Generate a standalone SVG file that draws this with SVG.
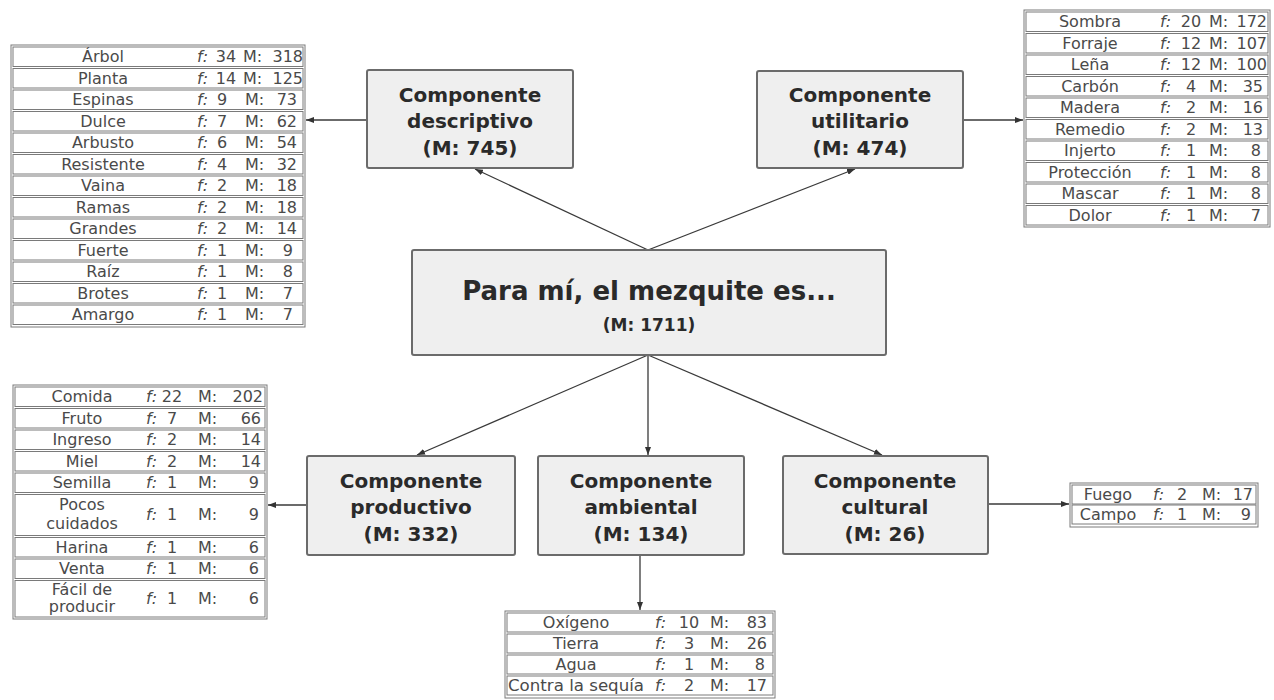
<svg xmlns="http://www.w3.org/2000/svg" width="1274" height="700" viewBox="0 0 1274 700">
<defs>
<marker id="ah" markerWidth="8" markerHeight="6" refX="8" refY="3" orient="auto" markerUnits="userSpaceOnUse">
<path d="M0,0 L8,3 L0,6 z" fill="#333"/>
</marker>
<style>
.box{fill:#efefef;stroke:#6b6b6b;stroke-width:2}
.bt{font-family:"DejaVu Sans",sans-serif;font-weight:bold;font-size:20px;fill:#2a2a2a;text-anchor:middle}
.outer{fill:#fff;stroke:#7a7a7a;stroke-width:1}
.row{fill:none;stroke:#7a7a7a;stroke-width:1}
.tx{font-family:"DejaVu Sans",sans-serif;font-size:16px;fill:#4a4a4a}
.nm{text-anchor:middle}
.f{font-style:italic}
.fn{text-anchor:middle}
.mn{text-anchor:end}
.con{fill:none;stroke:#3a3a3a;stroke-width:1.3;marker-end:url(#ah)}
</style>
</defs>
<rect width="1274" height="700" fill="#fff"/>

<g id="connectors">
<line class="con" x1="648" y1="250" x2="475" y2="169"/>
<line class="con" x1="648" y1="250" x2="855" y2="169"/>
<line class="con" x1="648" y1="355" x2="417" y2="455"/>
<line class="con" x1="648" y1="355" x2="648" y2="455"/>
<line class="con" x1="648" y1="355" x2="882" y2="455"/>
<line class="con" x1="366" y1="120" x2="306" y2="120"/>
<line class="con" x1="964" y1="120" x2="1023" y2="120"/>
<line class="con" x1="306" y1="505" x2="268" y2="505"/>
<line class="con" x1="640" y1="556" x2="640" y2="610"/>
<line class="con" x1="989" y1="504" x2="1069" y2="504"/>
</g>

<g id="center">
<rect class="box" x="412" y="250" width="474" height="105" rx="2"/>
<text class="bt" x="649" y="300" style="font-size:26px">Para mí, el mezquite es...</text>
<text class="bt" x="649" y="331" style="font-size:17px">(M: 1711)</text>
</g>

<g id="descriptivo">
<rect class="box" x="367" y="70" width="206" height="98" rx="2"/>
<text class="bt" x="470" y="102">Componente</text>
<text class="bt" x="470" y="128">descriptivo</text>
<text class="bt" x="470" y="155">(M: 745)</text>
</g>

<g id="utilitario">
<rect class="box" x="757" y="71" width="206" height="97" rx="2"/>
<text class="bt" x="860" y="102">Componente</text>
<text class="bt" x="860" y="128">utilitario</text>
<text class="bt" x="860" y="155">(M: 474)</text>
</g>

<g id="productivo">
<rect class="box" x="307" y="456" width="208" height="99" rx="2"/>
<text class="bt" x="411" y="488">Componente</text>
<text class="bt" x="411" y="514">productivo</text>
<text class="bt" x="411" y="541">(M: 332)</text>
</g>

<g id="ambiental">
<rect class="box" x="538" y="456" width="206" height="99" rx="2"/>
<text class="bt" x="641" y="488">Componente</text>
<text class="bt" x="641" y="514">ambiental</text>
<text class="bt" x="641" y="541">(M: 134)</text>
</g>

<g id="cultural">
<rect class="box" x="783" y="456" width="205" height="98" rx="2"/>
<text class="bt" x="885" y="488">Componente</text>
<text class="bt" x="885" y="514">cultural</text>
<text class="bt" x="885" y="541">(M: 26)</text>
</g>

<g id="tabla-descriptivo" class="tx">
<rect class="outer" x="11" y="45" width="294" height="282"/>
<rect class="row" x="13" y="47" width="290" height="19.5"/>
<rect class="row" x="13" y="68.5" width="290" height="19.5"/>
<rect class="row" x="13" y="90" width="290" height="19.5"/>
<rect class="row" x="13" y="111.5" width="290" height="19.5"/>
<rect class="row" x="13" y="133" width="290" height="19.5"/>
<rect class="row" x="13" y="154.5" width="290" height="19.5"/>
<rect class="row" x="13" y="176" width="290" height="19.5"/>
<rect class="row" x="13" y="197.5" width="290" height="19.5"/>
<rect class="row" x="13" y="219" width="290" height="19.5"/>
<rect class="row" x="13" y="240.5" width="290" height="19.5"/>
<rect class="row" x="13" y="262" width="290" height="19.5"/>
<rect class="row" x="13" y="283.5" width="290" height="19.5"/>
<rect class="row" x="13" y="305" width="290" height="19.5"/>
<text class="nm" x="103" y="62">Árbol</text><text class="f" x="197" y="62">f:</text><text class="fn" x="226" y="62">34</text><text x="243" y="62">M:</text><text class="mn" x="303" y="62">318</text>
<text class="nm" x="103" y="83.5">Planta</text><text class="f" x="197" y="83.5">f:</text><text class="fn" x="226" y="83.5">14</text><text x="243" y="83.5">M:</text><text class="mn" x="303" y="83.5">125</text>
<text class="nm" x="103" y="105">Espinas</text><text class="f" x="197" y="105">f:</text><text class="fn" x="222" y="105">9</text><text x="245" y="105">M:</text><text class="mn" x="297" y="105">73</text>
<text class="nm" x="103" y="126.5">Dulce</text><text class="f" x="197" y="126.5">f:</text><text class="fn" x="222" y="126.5">7</text><text x="245" y="126.5">M:</text><text class="mn" x="297" y="126.5">62</text>
<text class="nm" x="103" y="148">Arbusto</text><text class="f" x="197" y="148">f:</text><text class="fn" x="222" y="148">6</text><text x="245" y="148">M:</text><text class="mn" x="297" y="148">54</text>
<text class="nm" x="103" y="169.5">Resistente</text><text class="f" x="197" y="169.5">f:</text><text class="fn" x="222" y="169.5">4</text><text x="245" y="169.5">M:</text><text class="mn" x="297" y="169.5">32</text>
<text class="nm" x="103" y="191">Vaina</text><text class="f" x="197" y="191">f:</text><text class="fn" x="222" y="191">2</text><text x="245" y="191">M:</text><text class="mn" x="297" y="191">18</text>
<text class="nm" x="103" y="212.5">Ramas</text><text class="f" x="197" y="212.5">f:</text><text class="fn" x="222" y="212.5">2</text><text x="245" y="212.5">M:</text><text class="mn" x="297" y="212.5">18</text>
<text class="nm" x="103" y="234">Grandes</text><text class="f" x="197" y="234">f:</text><text class="fn" x="222" y="234">2</text><text x="245" y="234">M:</text><text class="mn" x="297" y="234">14</text>
<text class="nm" x="103" y="255.5">Fuerte</text><text class="f" x="197" y="255.5">f:</text><text class="fn" x="222" y="255.5">1</text><text x="245" y="255.5">M:</text><text class="mn" x="293" y="255.5">9</text>
<text class="nm" x="103" y="277">Raíz</text><text class="f" x="197" y="277">f:</text><text class="fn" x="222" y="277">1</text><text x="245" y="277">M:</text><text class="mn" x="293" y="277">8</text>
<text class="nm" x="103" y="298.5">Brotes</text><text class="f" x="197" y="298.5">f:</text><text class="fn" x="222" y="298.5">1</text><text x="245" y="298.5">M:</text><text class="mn" x="293" y="298.5">7</text>
<text class="nm" x="103" y="320">Amargo</text><text class="f" x="197" y="320">f:</text><text class="fn" x="222" y="320">1</text><text x="245" y="320">M:</text><text class="mn" x="293" y="320">7</text>
</g>

<g id="tabla-utilitario" class="tx">
<rect class="outer" x="1024" y="10" width="246" height="217"/>
<rect class="row" x="1026" y="12" width="242" height="19.5"/>
<rect class="row" x="1026" y="33.5" width="242" height="19.5"/>
<rect class="row" x="1026" y="55" width="242" height="19.5"/>
<rect class="row" x="1026" y="76.5" width="242" height="19.5"/>
<rect class="row" x="1026" y="98" width="242" height="19.5"/>
<rect class="row" x="1026" y="119.5" width="242" height="19.5"/>
<rect class="row" x="1026" y="141" width="242" height="19.5"/>
<rect class="row" x="1026" y="162.5" width="242" height="19.5"/>
<rect class="row" x="1026" y="184" width="242" height="19.5"/>
<rect class="row" x="1026" y="205.5" width="242" height="19.5"/>
<text class="nm" x="1090" y="27">Sombra</text><text class="f" x="1160" y="27">f:</text><text class="fn" x="1191" y="27">20</text><text x="1209" y="27">M:</text><text class="mn" x="1267" y="27">172</text>
<text class="nm" x="1090" y="48.5">Forraje</text><text class="f" x="1160" y="48.5">f:</text><text class="fn" x="1191" y="48.5">12</text><text x="1209" y="48.5">M:</text><text class="mn" x="1267" y="48.5">107</text>
<text class="nm" x="1090" y="70">Leña</text><text class="f" x="1160" y="70">f:</text><text class="fn" x="1191" y="70">12</text><text x="1209" y="70">M:</text><text class="mn" x="1267" y="70">100</text>
<text class="nm" x="1090" y="91.5">Carbón</text><text class="f" x="1160" y="91.5">f:</text><text class="fn" x="1191" y="91.5">4</text><text x="1209" y="91.5">M:</text><text class="mn" x="1263" y="91.5">35</text>
<text class="nm" x="1090" y="113">Madera</text><text class="f" x="1160" y="113">f:</text><text class="fn" x="1191" y="113">2</text><text x="1209" y="113">M:</text><text class="mn" x="1263" y="113">16</text>
<text class="nm" x="1090" y="134.5">Remedio</text><text class="f" x="1160" y="134.5">f:</text><text class="fn" x="1191" y="134.5">2</text><text x="1209" y="134.5">M:</text><text class="mn" x="1263" y="134.5">13</text>
<text class="nm" x="1090" y="156">Injerto</text><text class="f" x="1160" y="156">f:</text><text class="fn" x="1191" y="156">1</text><text x="1209" y="156">M:</text><text class="mn" x="1261" y="156">8</text>
<text class="nm" x="1090" y="177.5">Protección</text><text class="f" x="1160" y="177.5">f:</text><text class="fn" x="1191" y="177.5">1</text><text x="1209" y="177.5">M:</text><text class="mn" x="1261" y="177.5">8</text>
<text class="nm" x="1090" y="199">Mascar</text><text class="f" x="1160" y="199">f:</text><text class="fn" x="1191" y="199">1</text><text x="1209" y="199">M:</text><text class="mn" x="1261" y="199">8</text>
<text class="nm" x="1090" y="220.5">Dolor</text><text class="f" x="1160" y="220.5">f:</text><text class="fn" x="1191" y="220.5">1</text><text x="1209" y="220.5">M:</text><text class="mn" x="1261" y="220.5">7</text>
</g>

<g id="tabla-productivo" class="tx">
<rect class="outer" x="13" y="385" width="254" height="234"/>
<rect class="row" x="15" y="387" width="250" height="19.5"/>
<rect class="row" x="15" y="408.5" width="250" height="19.5"/>
<rect class="row" x="15" y="430" width="250" height="19.5"/>
<rect class="row" x="15" y="451.5" width="250" height="19.5"/>
<rect class="row" x="15" y="473" width="250" height="19.5"/>
<rect class="row" x="15" y="494.5" width="250" height="41"/>
<rect class="row" x="15" y="537.5" width="250" height="19.5"/>
<rect class="row" x="15" y="559" width="250" height="19.5"/>
<rect class="row" x="15" y="580.5" width="250" height="36.5"/>
<text class="nm" x="82" y="402">Comida</text><text class="f" x="146" y="402">f:</text><text class="fn" x="172" y="402">22</text><text x="198" y="402">M:</text><text class="mn" x="263" y="402">202</text>
<text class="nm" x="82" y="423.5">Fruto</text><text class="f" x="146" y="423.5">f:</text><text class="fn" x="172" y="423.5">7</text><text x="198" y="423.5">M:</text><text class="mn" x="261" y="423.5">66</text>
<text class="nm" x="82" y="445">Ingreso</text><text class="f" x="146" y="445">f:</text><text class="fn" x="172" y="445">2</text><text x="198" y="445">M:</text><text class="mn" x="261" y="445">14</text>
<text class="nm" x="82" y="466.5">Miel</text><text class="f" x="146" y="466.5">f:</text><text class="fn" x="172" y="466.5">2</text><text x="198" y="466.5">M:</text><text class="mn" x="261" y="466.5">14</text>
<text class="nm" x="82" y="488">Semilla</text><text class="f" x="146" y="488">f:</text><text class="fn" x="172" y="488">1</text><text x="198" y="488">M:</text><text class="mn" x="259" y="488">9</text>
<text class="nm" x="82" y="510">Pocos</text><text class="nm" x="82" y="529">cuidados</text><text class="f" x="146" y="520">f:</text><text class="fn" x="172" y="520">1</text><text x="198" y="520">M:</text><text class="mn" x="259" y="520">9</text>
<text class="nm" x="82" y="552.5">Harina</text><text class="f" x="146" y="552.5">f:</text><text class="fn" x="172" y="552.5">1</text><text x="198" y="552.5">M:</text><text class="mn" x="259" y="552.5">6</text>
<text class="nm" x="82" y="574">Venta</text><text class="f" x="146" y="574">f:</text><text class="fn" x="172" y="574">1</text><text x="198" y="574">M:</text><text class="mn" x="259" y="574">6</text>
<text class="nm" x="82" y="595">Fácil de</text><text class="nm" x="82" y="612">producir</text><text class="f" x="146" y="604">f:</text><text class="fn" x="172" y="604">1</text><text x="198" y="604">M:</text><text class="mn" x="259" y="604">6</text>
</g>

<g id="tabla-ambiental" class="tx">
<rect class="outer" x="505" y="611" width="270" height="87"/>
<rect class="row" x="507" y="613" width="266" height="19"/>
<rect class="row" x="507" y="634" width="266" height="19"/>
<rect class="row" x="507" y="655" width="266" height="19"/>
<rect class="row" x="507" y="676" width="266" height="19"/>
<text class="nm" x="576" y="628">Oxígeno</text><text class="f" x="655" y="628">f:</text><text class="fn" x="689" y="628">10</text><text x="710" y="628">M:</text><text class="mn" x="767" y="628">83</text>
<text class="nm" x="576" y="649">Tierra</text><text class="f" x="655" y="649">f:</text><text class="fn" x="689" y="649">3</text><text x="710" y="649">M:</text><text class="mn" x="767" y="649">26</text>
<text class="nm" x="576" y="670">Agua</text><text class="f" x="655" y="670">f:</text><text class="fn" x="689" y="670">1</text><text x="710" y="670">M:</text><text class="mn" x="765" y="670">8</text>
<text class="nm" x="576" y="691" textLength="136" lengthAdjust="spacingAndGlyphs">Contra la sequía</text><text class="f" x="655" y="691">f:</text><text class="fn" x="689" y="691">2</text><text x="710" y="691">M:</text><text class="mn" x="767" y="691">17</text>
</g>

<g id="tabla-cultural" class="tx">
<rect class="outer" x="1070" y="483" width="188" height="44"/>
<rect class="row" x="1072" y="485" width="184" height="19"/>
<rect class="row" x="1072" y="505" width="184" height="19"/>
<text class="nm" x="1108" y="500">Fuego</text><text class="f" x="1153" y="500">f:</text><text class="fn" x="1182" y="500">2</text><text x="1202" y="500">M:</text><text class="mn" x="1253" y="500">17</text>
<text class="nm" x="1108" y="520">Campo</text><text class="f" x="1153" y="520">f:</text><text class="fn" x="1182" y="520">1</text><text x="1202" y="520">M:</text><text class="mn" x="1251" y="520">9</text>
</g>
</svg>
